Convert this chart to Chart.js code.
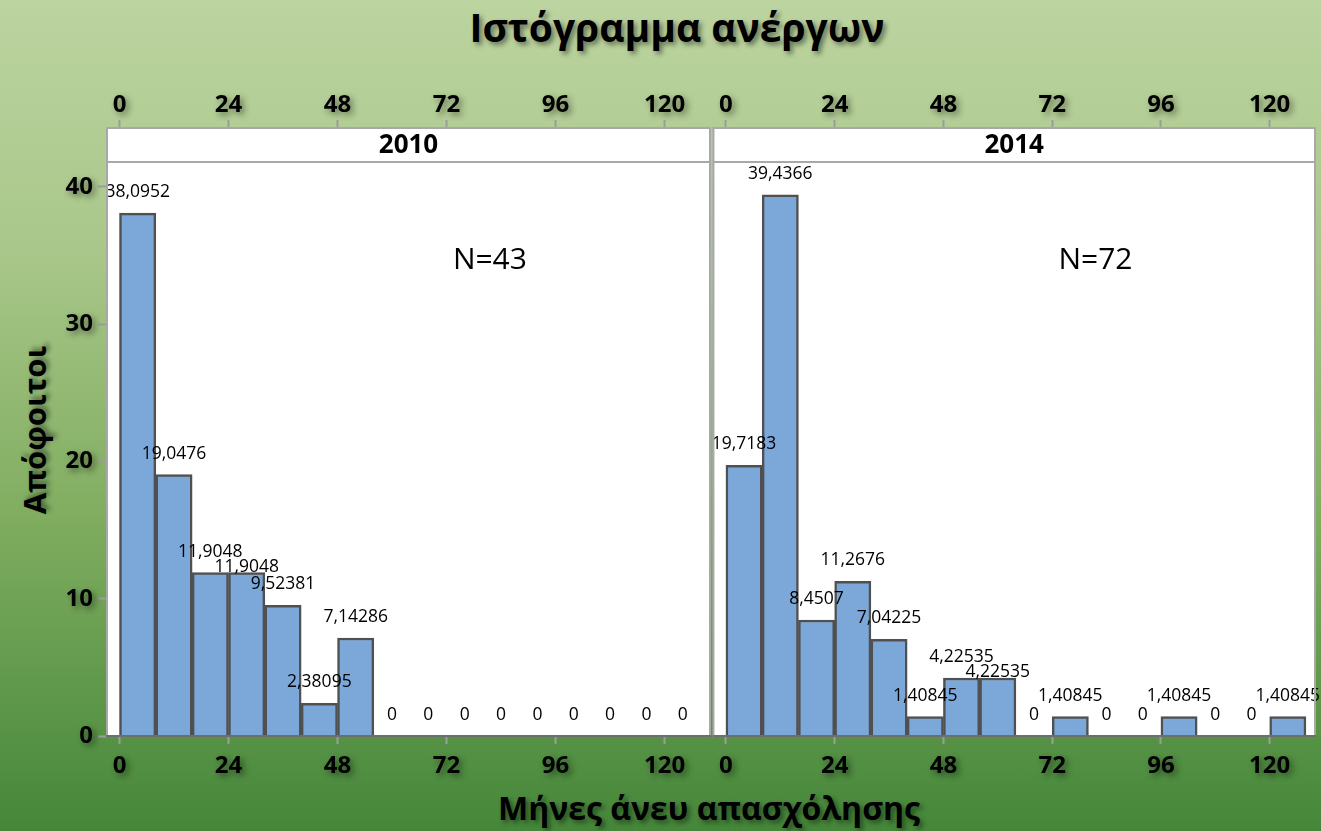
<!DOCTYPE html>
<html>
<head>
<meta charset="utf-8">
<title>Ιστόγραμμα ανέργων</title>
<script src="https://cdn.jsdelivr.net/npm/chart.js@4.4.1/dist/chart.umd.min.js"></script>
<style>
  html, body { margin: 0; padding: 0; }
  body {
    width: 1321px; height: 831px; overflow: hidden; position: relative;
    background: linear-gradient(to bottom, #bcd4a0 0%, #a9c78a 30%, #80ad60 62%, #45873a 100%);
    font-family: "Open Sans", sans-serif;
  }
  canvas { position: absolute; top: 0; }
  .lbl {
    position: absolute; color: #000; font-weight: 700; white-space: nowrap;
    text-shadow: 3px 3px 5px rgba(0, 0, 0, 0.45);
  }
  #title { left: 677px; top: 26px; font-size: 39px; transform: translate(-50%, -50%); }
  #ytitle { left: 34px; top: 430px; font-size: 31px; transform: translate(-50%, -50%) rotate(-90deg); }
  #xtitle { left: 709px; top: 807px; font-size: 32px; transform: translate(-50%, -50%); }
</style>
</head>
<body>
<div class="lbl" id="title">Ιστόγραμμα ανέργων</div>
<div class="lbl" id="ytitle">Απόφοιτοι</div>
<div class="lbl" id="xtitle">Μήνες άνευ απασχόλησης</div>
<canvas id="c2010" width="711" height="831" style="left:0;width:711px;height:831px"></canvas>
<canvas id="c2014" width="610" height="831" style="left:711px;width:610px;height:831px"></canvas>
<script>
// bins of 8 months, start of each bin
const binStart = [0, 8, 16, 24, 32, 40, 48, 56, 64, 72, 80, 88, 96, 104, 112, 120];
const binWidth = 8;
const values2010 = [38.0952, 19.0476, 11.9048, 11.9048, 9.52381, 2.38095, 7.14286, 0, 0, 0, 0, 0, 0, 0, 0, 0];
const values2014 = [19.7183, 39.4366, 8.4507, 11.2676, 7.04225, 1.40845, 4.22535, 4.22535, 0, 1.40845, 0, 0, 1.40845, 0, 0, 1.40845];
const xTicks = [0, 24, 48, 72, 96, 120];
const yTicks = [0, 10, 20, 30, 40];

const tickFont = { family: 'Open Sans', size: 24, weight: 'bold' };

// tick labels get a soft dark shadow like the titles
const shadowTicks = {
  id: 'shadowTicks',
  beforeDraw(chart) {
    Object.values(chart.scales).forEach(s => {
      if (s._shadowed) return;
      const orig = s.drawLabels.bind(s);
      s.drawLabels = function (area) {
        const ctx = this.ctx;
        ctx.save();
        ctx.shadowColor = 'rgba(0,0,0,0.45)';
        ctx.shadowBlur = 6;
        ctx.shadowOffsetX = 3;
        ctx.shadowOffsetY = 3;
        orig(area);
        ctx.restore();
      };
      s._shadowed = true;
    });
  }
};

// white panel, strip with the year on top, N label
const facetFrame = {
  id: 'facetFrame',
  beforeDraw(chart) {
    const { ctx, chartArea: a } = chart;
    ctx.save();
    ctx.fillStyle = '#fff';
    ctx.fillRect(a.left, a.top, a.right - a.left, a.bottom - a.top);
    ctx.restore();
  },
  afterDraw(chart, args, opts) {
    const { ctx, chartArea: a } = chart;
    const h = opts.stripHeight;
    ctx.save();
    ctx.fillStyle = '#fff';
    ctx.fillRect(a.left, a.top - h, a.right - a.left, h);
    ctx.strokeStyle = '#a8a8a8';
    ctx.lineWidth = 2;
    ctx.strokeRect(a.left, a.top - h, a.right - a.left, a.bottom - a.top + h);
    ctx.beginPath();
    ctx.moveTo(a.left, a.top);
    ctx.lineTo(a.right, a.top);
    ctx.stroke();
    ctx.strokeStyle = '#6e6e6e';
    ctx.beginPath();
    ctx.moveTo(a.left - 1, a.bottom);
    ctx.lineTo(a.right + 1, a.bottom);
    ctx.stroke();

    ctx.fillStyle = '#000';
    ctx.textAlign = 'center';
    ctx.textBaseline = 'middle';
    ctx.font = 'bold 26px "Open Sans"';
    ctx.fillText(opts.text, (a.left + a.right) / 2, a.top - h / 2 + 1);
    ctx.font = '30px "Open Sans"';
    ctx.fillText(opts.note, a.left + (a.right - a.left) * opts.noteX, a.top + (a.bottom - a.top) * opts.noteY);
    ctx.restore();
  }
};

// value labels above bars, pushed down a little when they collide
const barLabels = {
  id: 'barLabels',
  afterDatasetsDraw(chart) {
    const ctx = chart.ctx;
    const meta = chart.getDatasetMeta(0);
    const data = chart.data.datasets[0].data;
    ctx.save();
    ctx.font = '17.5px "Open Sans"';
    ctx.fillStyle = '#000';
    ctx.textAlign = 'center';
    ctx.textBaseline = 'middle';
    const placed = [];
    meta.data.forEach((bar, i) => {
      const txt = String(data[i].y).replace('.', ',');
      const w = ctx.measureText(txt).width;
      let y = bar.y - 21;
      const hit = () => placed.some(p => Math.abs(p.x - bar.x) < (p.w + w) / 2 && Math.abs(p.y - y) < 14);
      while (hit()) y += 15;
      placed.push({ x: bar.x, y, w });
      ctx.fillText(txt, bar.x, y);
    });
    ctx.restore();
  }
};

function xAxis(position, height, tickLength, padding) {
  return {
    type: 'linear',
    position,
    min: -2.75,
    max: 130,
    offset: false,
    afterBuildTicks: s => { s.ticks = xTicks.map(v => ({ value: v })); },
    afterFit: s => { s.height = height; },
    grid: { offset: false, drawOnChartArea: false, tickLength, tickColor: '#9c9c9c', tickWidth: 2 },
    border: { display: false },
    ticks: { padding, color: '#000', font: tickFont, maxRotation: 0, autoSkip: false }
  };
}

function makeChart(id, year, values, n, showY, padding) {
  return new Chart(document.getElementById(id), {
    type: 'bar',
    data: {
      datasets: [{
        label: year,
        data: binStart.map((b, i) => ({ x: b + binWidth / 2, y: values[i] })),
        backgroundColor: '#7ba7d9',
        borderColor: '#505050',
        borderWidth: 2.5,
        barPercentage: 1,
        categoryPercentage: 1
      }]
    },
    options: {
      responsive: false,
      animation: false,
      events: [],
      layout: { padding },
      plugins: {
        legend: { display: false },
        tooltip: { enabled: false },
        facetFrame: { stripHeight: 34, text: year, note: 'N=' + n, noteX: 0.635, noteY: 0.172 }
      },
      scales: {
        x: xAxis('bottom', 95, 8, 8),
        x2: xAxis('top', 72, 42, 0),
        y: {
          display: showY,
          min: 0,
          max: 41.82,
          afterBuildTicks: s => { s.ticks = yTicks.map(v => ({ value: v })); },
          afterFit: s => { s.width = showY ? 107 : 0; },
          grid: { drawOnChartArea: false, tickLength: 9, tickColor: '#9c9c9c', tickWidth: 2 },
          border: { display: false },
          ticks: { padding: 5, color: '#000', font: tickFont }
        }
      }
    },
    plugins: [shadowTicks, facetFrame, barLabels]
  });
}

makeChart('c2010', '2010', values2010, 43, true, { top: 90, bottom: 0, left: 0, right: 1 });
makeChart('c2014', '2014', values2014, 72, false, { top: 90, bottom: 0, left: 1, right: 6 });
</script>
</body>
</html>
